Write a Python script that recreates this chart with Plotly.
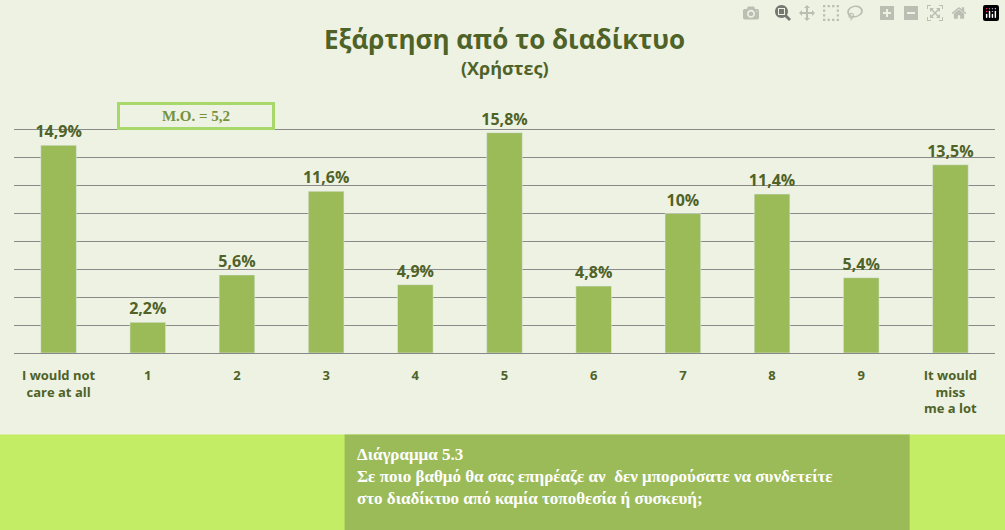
import plotly.graph_objects as go

categories = ['<b>I would not<br>care at all</b>', '<b>1</b>', '<b>2</b>', '<b>3</b>', '<b>4</b>', '<b>5</b>',
              '<b>6</b>', '<b>7</b>', '<b>8</b>', '<b>9</b>', '<b>It would<br>miss<br>me a lot</b>']
values = [14.9, 2.2, 5.6, 11.6, 4.9, 15.8, 4.8, 10.0, 11.4, 5.4, 13.5]
labels = ['14,9%', '2,2%', '5,6%', '11,6%', '4,9%', '15,8%', '4,8%', '10%', '11,4%', '5,4%', '13,5%']

dark = '#4F6228'
fig = go.Figure(go.Bar(x=categories, y=values, text=['<b>' + l + '</b>' for l in labels],
                       textposition='outside', constraintext='none',
                       marker_color='#9BBB59', cliponaxis=False,
                       textfont=dict(family='Open Sans', size=16, color=dark)))

fig.update_layout(
    width=1005, height=530, margin=dict(l=14, r=10, t=102, b=177),
    paper_bgcolor='#EEF2E2', plot_bgcolor='#EEF2E2', bargap=0.6, showlegend=False,
    font=dict(family='Open Sans', color=dark),
    xaxis=dict(showline=True, linecolor='#888888', tickfont=dict(size=13, color=dark),
               ticklabelstandoff=10),
    yaxis=dict(range=[0, 18], dtick=2, showticklabels=False, gridcolor='#8A8A8A',
               zeroline=False),
    shapes=[
        dict(type='rect', xref='paper', yref='paper', x0=-0.02, x1=1.02, y0=-0.705, y1=-0.325,
             fillcolor='#C4ED66', line_width=0, layer='below'),
        dict(type='rect', xref='paper', yref='paper', x0=0.337, x1=0.913, y0=-0.705, y1=-0.325,
             fillcolor='#9BBB59', line_width=0),
    ],
    annotations=[
        dict(text='<b>Εξάρτηση από το διαδίκτυο</b>', xref='paper', yref='paper', x=0.5, y=1.33,
             showarrow=False, font=dict(size=26, color=dark)),
        dict(text='<b>(Χρήστες)</b>', xref='paper', yref='paper', x=0.5, y=1.19,
             showarrow=False, font=dict(size=18, color=dark)),
        dict(text='<b>M.O. = 5,2</b>', xref='paper', yref='paper', x=0.186, y=0.944,
             xanchor='center', yanchor='middle',
             showarrow=False, font=dict(family='Liberation Serif', size=15, color='#76923C'),
             bordercolor='#A6D86A', borderwidth=3, width=150, height=20, bgcolor='#EEF2E2'),
        dict(text='<b>Διάγραμμα 5.3<br>Σε ποιο βαθμό θα σας επηρέαζε αν  δεν μπορούσατε να συνδετείτε'
                  '<br>στο διαδίκτυο από καμία τοποθεσία ή συσκευή;</b>',
             xref='paper', yref='paper', x=0.348, y=-0.36, xanchor='left', yanchor='top',
             align='left', showarrow=False,
             font=dict(family='Liberation Serif', size=17, color='white')),
    ],
)

fig.write_html("out.html", post_script="document.body.style.margin='0';")
